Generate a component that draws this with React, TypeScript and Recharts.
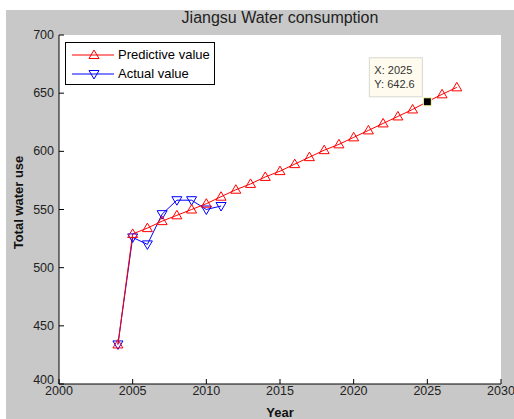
import {
  CartesianGrid,
  Legend,
  Line,
  LineChart,
  XAxis,
  YAxis,
} from "recharts";

const YEARS = [
  2004, 2005, 2006, 2007, 2008, 2009, 2010, 2011, 2012, 2013, 2014, 2015,
  2016, 2017, 2018, 2019, 2020, 2021, 2022, 2023, 2024, 2025, 2026, 2027,
];

const PREDICTIVE = [
  434, 529, 534, 540, 545, 550, 555, 561, 567, 572, 578, 583, 589, 595, 601,
  606, 612, 618, 624, 630, 636, 642.6, 649, 655,
];

const ACTUAL = [434, 526, 520, 546, 558, 558, 550, 553];

const X_TICKS = [2000, 2005, 2010, 2015, 2020, 2025, 2030];
const Y_TICKS = [400, 450, 500, 550, 600, 650, 700];

// data tip pinned on the predictive series
const TIP = { x: 2025, y: 642.6 };

const FONT = '"Liberation Sans", Arial, sans-serif';
const RED = "#ff0000";
const BLUE = "#0000ff";

type Row = { year: number; predictive: number; actual: number | null };

const rows: Row[] = YEARS.map((year, i) => ({
  year,
  predictive: PREDICTIVE[i],
  actual: i < ACTUAL.length ? ACTUAL[i] : null,
}));

function TriUp({ cx, cy, color }: { cx: number; cy: number; color: string }) {
  return (
    <path
      d={`M${cx},${cy - 5}L${cx + 5},${cy + 3.5}L${cx - 5},${cy + 3.5}Z`}
      fill="none"
      stroke={color}
      strokeWidth={1}
    />
  );
}

function TriDown({ cx, cy, color }: { cx: number; cy: number; color: string }) {
  return (
    <path
      d={`M${cx - 5},${cy - 3.5}L${cx + 5},${cy - 3.5}L${cx},${cy + 5}Z`}
      fill="none"
      stroke={color}
      strokeWidth={1}
    />
  );
}

function DataTip({ cx, cy }: { cx: number; cy: number }) {
  return (
    <g>
      <rect
        x={cx - 58}
        y={cy - 44}
        width={53}
        height={39}
        fill="#fffbee"
        stroke="#d8d8d0"
        strokeWidth={1}
      />
      <text x={cx - 53} y={cy - 28} fontSize={11} fontFamily={FONT} fill="#333">
        X: {TIP.x}
      </text>
      <text x={cx - 53} y={cy - 14} fontSize={11} fontFamily={FONT} fill="#333">
        Y: {TIP.y}
      </text>
      <rect
        x={cx - 4}
        y={cy - 4}
        width={8}
        height={8}
        fill="#000"
        stroke="#ffffb0"
        strokeWidth={1}
      />
    </g>
  );
}

function upDot(p: any) {
  if (p.cx == null || p.cy == null || p.value == null) return <g key={p.index} />;
  if (p.payload && p.payload.year === TIP.x) {
    return (
      <g key={p.index}>
        <DataTip cx={p.cx} cy={p.cy} />
      </g>
    );
  }
  return (
    <g key={p.index}>
      <TriUp cx={p.cx} cy={p.cy} color={RED} />
    </g>
  );
}

function downDot(p: any) {
  if (p.cx == null || p.cy == null || p.value == null) return <g key={p.index} />;
  return (
    <g key={p.index}>
      <TriDown cx={p.cx} cy={p.cy} color={BLUE} />
    </g>
  );
}

function LegendBox() {
  const items = [
    { label: "Predictive value", color: RED, up: true },
    { label: "Actual value", color: BLUE, up: false },
  ];
  return (
    <div
      style={{
        width: 148,
        height: 41,
        border: "1px solid #000",
        background: "#fff",
        fontFamily: FONT,
        fontSize: 13,
        color: "#000",
        boxSizing: "content-box",
      }}
    >
      {items.map((it, i) => (
        <div
          key={it.label}
          style={{ display: "flex", alignItems: "center", height: 19, marginTop: i === 0 ? 2 : 0 }}
        >
          <svg width={52} height={19} style={{ display: "block" }}>
            <line x1={6} y1={10} x2={48} y2={10} stroke={it.color} strokeWidth={1} />
            {it.up ? (
              <TriUp cx={28} cy={10} color={it.color} />
            ) : (
              <TriDown cx={28} cy={10} color={it.color} />
            )}
          </svg>
          <span style={{ whiteSpace: "nowrap" }}>{it.label}</span>
        </div>
      ))}
    </div>
  );
}

function YTick(p: any) {
  const { x, y, payload } = p;
  // the bottom label sits a little higher, as in the source figure
  const dy = payload.value === Y_TICKS[0] ? -4 : 0;
  return (
    <text
      x={x}
      y={y + dy}
      textAnchor="end"
      dominantBaseline="central"
      fill="#222"
      fontSize={12.5}
      fontFamily={FONT}
    >
      {payload.value}
    </text>
  );
}

export default function App() {
  const tickStyle = { fill: "#222", fontSize: 12.5, fontFamily: FONT };
  return (
    <div style={{ position: "absolute", left: 0, top: 0, width: 514, height: 419, background: "#fff" }}>
      <div
        style={{
          position: "absolute",
          left: 6,
          top: 10,
          width: 508,
          height: 409,
          background: "#c8c8c8",
        }}
      />
      <div
        style={{
          position: "absolute",
          left: 0,
          top: 9,
          width: 514,
          textAlign: "center",
          paddingLeft: 46,
          boxSizing: "border-box",
          fontFamily: FONT,
          fontSize: 16,
          color: "#222",
        }}
      >
        Jiangsu Water consumption
      </div>
      <div style={{ position: "absolute", left: 0, top: 0 }}>
        <LineChart
          width={514}
          height={419}
          data={rows}
          margin={{ top: 35, right: 13, bottom: 0, left: 0 }}
        >
          <CartesianGrid horizontal={false} vertical={false} fill="#fff" stroke="none" />
          <XAxis
            dataKey="year"
            type="number"
            domain={[2000, 2030]}
            ticks={X_TICKS}
            interval={0}
            height={35}
            tickSize={-5}
            tickMargin={7}
            stroke="#000"
            tick={tickStyle}
            label={{
              value: "Year",
              position: "insideBottom",
              offset: 2,
              style: { fontFamily: FONT, fontSize: 13, fontWeight: "bold", fill: "#111" },
            }}
          />
          <XAxis
            xAxisId="top"
            dataKey="year"
            type="number"
            orientation="top"
            domain={[2000, 2030]}
            ticks={X_TICKS}
            height={0}
            tickSize={-5}
            stroke="#000"
            tick={false}
          />
          <YAxis
            type="number"
            domain={[400, 700]}
            ticks={Y_TICKS}
            interval={0}
            width={59}
            tickSize={-5}
            tickMargin={10}
            stroke="#000"
            tick={<YTick />}
            label={{
              content: (props: any) => {
                const vb = props.viewBox || { x: 0, y: 35, width: 59, height: 349 };
                const x = vb.x + 18;
                const y = vb.y + vb.height / 2 - 7;
                return (
                  <text
                    x={x}
                    y={y}
                    transform={`rotate(-90 ${x} ${y})`}
                    textAnchor="middle"
                    dominantBaseline="central"
                    fontFamily={FONT}
                    fontSize={13}
                    fontWeight="bold"
                    fill="#111"
                  >
                    Total water use
                  </text>
                );
              },
            }}
          />
          <YAxis
            yAxisId="right"
            orientation="right"
            type="number"
            domain={[400, 700]}
            ticks={Y_TICKS}
            width={0}
            tickSize={-5}
            stroke="#000"
            tick={false}
          />
          <Legend
            verticalAlign="middle"
            align="center"
            layout="horizontal"
            wrapperStyle={{ position: "absolute", top: 42, left: 65, width: "auto" }}
            content={() => <LegendBox />}
          />
          <Line
            dataKey="actual"
            name="Actual value"
            type="linear"
            stroke={BLUE}
            strokeWidth={1}
            dot={downDot}
            activeDot={false}
            connectNulls={false}
            isAnimationActive={false}
          />
          <Line
            dataKey="predictive"
            name="Predictive value"
            type="linear"
            stroke={RED}
            strokeWidth={1}
            dot={upDot}
            activeDot={false}
            isAnimationActive={false}
          />
        </LineChart>
      </div>
    </div>
  );
}
